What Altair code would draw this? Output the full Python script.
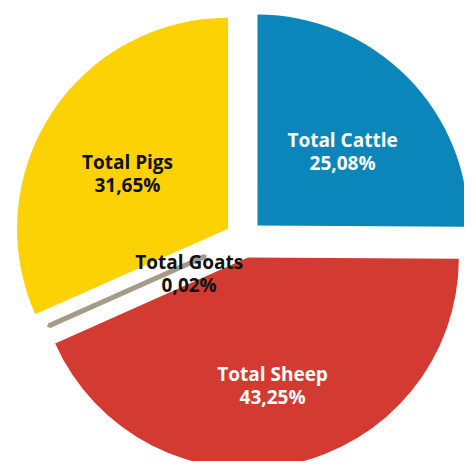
import altair as alt
import pandas as pd

# Data
categories = ["Cattle", "Sheep", "Goats", "Pigs"]
shares = [25.08, 43.25, 0.02, 31.65]
slice_colors = ["#0A86BA", "#D33B32", "#A39C89", "#FDD205"]
label_colors = ["#FFFFFF", "#FFFFFF", "#111111", "#111111"]

df = pd.DataFrame({"category": categories, "share": shares, "order": list(range(len(categories)))})

# Style / layout constants
W, H = 456, 453
CX, CY = 236, 231       # pie centre inside the chart
EXPLODE = 19            # distance each slice is pulled out
RADIUS = 211
SLIVER_OUTER = 194      # tiny slice drawn as a short bar
SLIVER_INNER = 24
LABEL_R = 139
LABEL_R_SMALL = 60

base = (
    alt.Chart(df)
    .transform_joinaggregate(total="sum(share)")
    .transform_window(cum="sum(share)", sort=[alt.SortField("order")], frame=[None, 0])
    .transform_calculate(
        a0="2*PI*(datum.cum - datum.share)/datum.total",
        a1="2*PI*datum.cum/datum.total",
    )
    .transform_calculate(mid="(datum.a0 + datum.a1)/2")
    .transform_calculate(
        cx=f"{CX} + {EXPLODE}*sin(datum.mid)",
        cy=f"{CY} - {EXPLODE}*cos(datum.mid)",
        lr=f"datum.share < 1 ? {LABEL_R_SMALL} : {LABEL_R}",
        r_out=f"datum.share < 1 ? {SLIVER_OUTER} : {RADIUS}",
        r_in=f"datum.share < 1 ? {SLIVER_INNER} : 0",
        label="'Total ' + datum.category + '\\n' + replace(format(datum.share, '.2f'), '.', ',') + '%'",
    )
    .transform_calculate(
        lx=f"{CX} + datum.lr*sin(datum.mid)",
        ly=f"{CY} - datum.lr*cos(datum.mid)",
    )
)

arcs = base.mark_arc(strokeJoin="bevel").encode(
    x=alt.X("cx:Q", scale=None),
    y=alt.Y("cy:Q", scale=None),
    theta=alt.Theta("a0:Q", scale=None, stack=None),
    theta2="a1:Q",
    radius=alt.Radius("r_out:Q", scale=None, stack=None),
    radius2="r_in:Q",
    color=alt.Color("category:N", scale=alt.Scale(domain=categories, range=slice_colors), legend=None),
    stroke=alt.Stroke("category:N", scale=alt.Scale(domain=categories, range=slice_colors), legend=None),
    strokeWidth=alt.condition("datum.share < 1", alt.value(5), alt.value(0)),
)

labels = base.mark_text(
    font="Open Sans", fontWeight="bold", fontSize=19, lineBreak="\n",
    align="center", baseline="middle", lineHeight=23,
).encode(
    x=alt.X("lx:Q", scale=None),
    y=alt.Y("ly:Q", scale=None),
    text="label:N",
    color=alt.Color("category:N", scale=alt.Scale(domain=categories, range=label_colors), legend=None),
)

chart = (
    alt.layer(arcs, labels)
    .resolve_scale(color="independent")
    .properties(width=W, height=H, padding=0, autosize=alt.AutoSizeParams(type="none"), background="white")
    .configure_view(stroke=None)
)

chart.save("out.html", embed_options={"renderer": "svg", "actions": False})
